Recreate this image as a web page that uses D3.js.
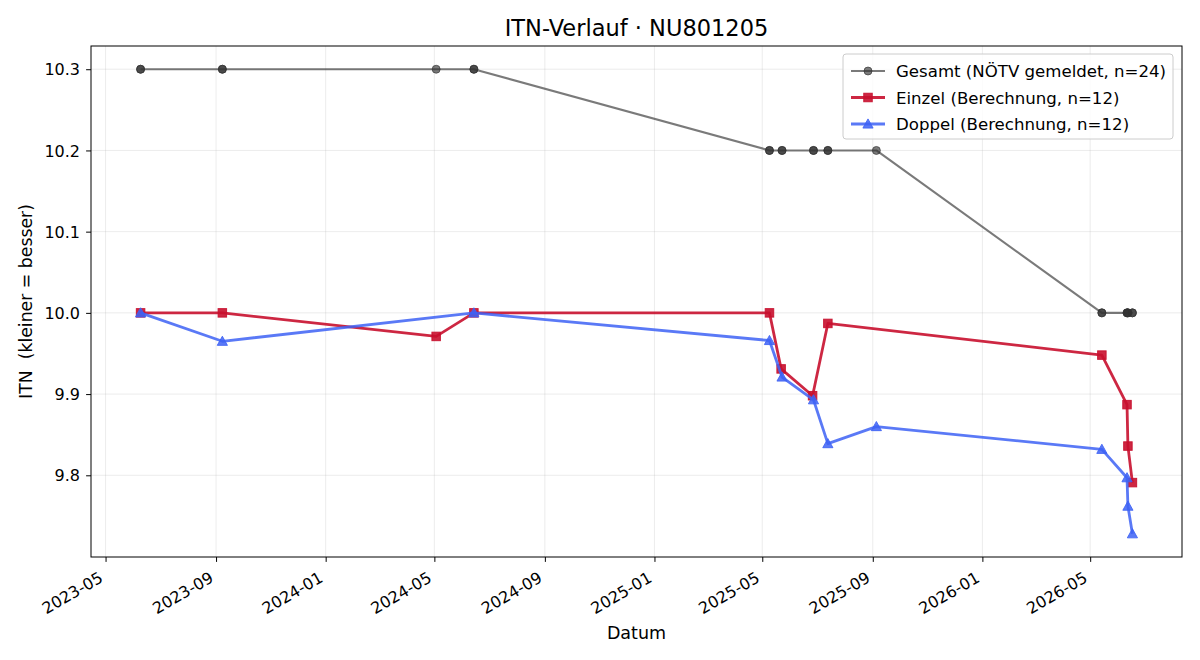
<!DOCTYPE html>
<html>
<head>
<meta charset="UTF-8">
<style>
body { margin: 0; background: #fff; }
svg { font-family: "DejaVu Sans", sans-serif; }
.grid line { stroke: #b0b0b0; stroke-opacity: 0.3; stroke-width: 0.8px; }
.axis path, .axis line { stroke: #000; }
.axis text { font-size: 16px; fill: #000; font-family: "DejaVu Sans", sans-serif; }
</style>
</head>
<body>
<svg width="1200" height="660"></svg>
<script src="https://cdnjs.cloudflare.com/ajax/libs/d3/7.8.5/d3.min.js"></script>
<script>
// data
var gesamtDates = ["2023-06-09","2023-06-09","2023-09-08","2023-09-08","2024-05-03","2024-06-14","2024-06-14",
  "2025-05-09","2025-05-09","2025-05-23","2025-05-23","2025-06-27","2025-06-27","2025-07-13","2025-07-13","2025-09-05",
  "2026-05-14","2026-05-14","2026-06-11","2026-06-11","2026-06-12","2026-06-12","2026-06-17","2026-06-17"];
var gesamtValues = [10.3,10.3,10.3,10.3,10.3,10.3,10.3,
  10.2,10.2,10.2,10.2,10.2,10.2,10.2,10.2,10.2,
  10.0,10.0,10.0,10.0,10.0,10.0,10.0,10.0];

var einzelDates = ["2023-06-09","2023-09-08","2024-05-03","2024-06-14","2025-05-09","2025-05-22",
  "2025-06-26","2025-07-13","2026-05-14","2026-06-11","2026-06-12","2026-06-17"];
var einzelValues = [10.0,10.0,9.971,10.0,10.0,9.931,9.898,9.987,9.948,9.887,9.836,9.791];

var doppelDates = ["2023-06-09","2023-09-08","2024-06-14","2025-05-09","2025-05-23","2025-06-27",
  "2025-07-13","2025-09-05","2026-05-14","2026-06-11","2026-06-12","2026-06-17"];
var doppelValues = [10.0,9.965,10.0,9.966,9.921,9.893,9.839,9.860,9.832,9.797,9.762,9.728];

var yTicks = [9.8, 9.9, 10.0, 10.1, 10.2, 10.3];
var xTickMonths = ["2023-05","2023-09","2024-01","2024-05","2024-09","2025-01","2025-05","2025-09","2026-01","2026-05"];

var parseDate = d3.timeParse("%Y-%m-%d");
var parseMonth = d3.timeParse("%Y-%m");

function toPoints(dates, values) {
  return dates.map(function(d, i) { return {date: parseDate(d), value: values[i]}; });
}

var series = [
  {name: "Gesamt (NÖTV gemeldet, n=24)", points: toPoints(gesamtDates, gesamtValues), color: "#333333", opacity: 0.65, width: 2.1, marker: "circle"},
  {name: "Einzel (Berechnung, n=12)", points: toPoints(einzelDates, einzelValues), color: "#c8102e", opacity: 0.9, width: 2.8, marker: "square"},
  {name: "Doppel (Berechnung, n=12)", points: toPoints(doppelDates, doppelValues), color: "#3d62f5", opacity: 0.85, width: 2.8, marker: "triangle"}
];

var svg = d3.select("svg"),
    margin = {top: 46, right: 18, bottom: 103, left: 91},
    width = 1200 - margin.left - margin.right,
    height = 660 - margin.top - margin.bottom,
    g = svg.append("g").attr("transform", "translate(" + margin.left + "," + margin.top + ")");

var allPts = [].concat.apply([], series.map(function(s) { return s.points; }));
var xExt = d3.extent(allPts, function(d) { return +d.date; }),
    yExt = d3.extent(allPts, function(d) { return d.value; });
var xPad = (xExt[1] - xExt[0]) * 0.05, yPad = (yExt[1] - yExt[0]) * 0.05;

var x = d3.scaleTime().domain([new Date(xExt[0] - xPad), new Date(xExt[1] + xPad)]).range([0, width]);
var y = d3.scaleLinear().domain([yExt[0] - yPad, yExt[1] + yPad]).range([height, 0]);

var xTicks = xTickMonths.map(parseMonth);

// grid
g.append("g").attr("class", "grid")
  .selectAll("line").data(xTicks).enter().append("line")
  .attr("x1", function(d) { return x(d); }).attr("x2", function(d) { return x(d); })
  .attr("y1", 0).attr("y2", height);
g.append("g").attr("class", "grid")
  .selectAll("line").data(yTicks).enter().append("line")
  .attr("y1", function(d) { return y(d); }).attr("y2", function(d) { return y(d); })
  .attr("x1", 0).attr("x2", width);

// axes
var xAxis = g.append("g").attr("class", "axis")
  .attr("transform", "translate(0," + height + ")")
  .call(d3.axisBottom(x).tickValues(xTicks).tickFormat(d3.timeFormat("%Y-%m")).tickSize(4.9).tickSizeOuter(0));
xAxis.selectAll("text")
  .attr("text-anchor", "end")
  .attr("dy", null).attr("y", 0).attr("x", 0)
  .attr("transform", "translate(-2,24) rotate(-30)");

g.append("g").attr("class", "axis")
  .call(d3.axisLeft(y).tickValues(yTicks).tickFormat(d3.format(".1f")).tickSize(4.9).tickSizeOuter(0))
  .selectAll("text").attr("x", -11).attr("dy", "0.35em");

g.selectAll(".axis .domain").remove();

// lines and markers
var line = d3.line().x(function(d) { return x(d.date); }).y(function(d) { return y(d.value); });

function drawMarker(sel, type, size) {
  if (type === "circle") {
    sel.append("circle").attr("r", size / 2);
  } else if (type === "square") {
    sel.append("rect").attr("x", -size / 2).attr("y", -size / 2).attr("width", size).attr("height", size);
  } else {
    var h = size * 0.6;
    sel.append("path").attr("d", "M0," + (-h) + "L" + h + "," + (h * 0.8) + "L" + (-h) + "," + (h * 0.8) + "Z");
  }
}

series.forEach(function(s) {
  var grp = g.append("g");
  grp.append("path").datum(s.points)
    .attr("fill", "none").attr("stroke", s.color).attr("stroke-opacity", s.opacity)
    .attr("stroke-width", s.width).attr("stroke-linejoin", "round")
    .attr("d", line);
  s.points.forEach(function(p) {
    var m = grp.append("g")
      .attr("transform", "translate(" + x(p.date) + "," + y(p.value) + ")")
      .attr("fill", s.color).attr("fill-opacity", s.opacity)
      .attr("stroke", s.color).attr("stroke-opacity", s.opacity).attr("stroke-width", 1);
    drawMarker(m, s.marker, s.marker === "circle" ? 8 : 8.5);
  });
});

// frame
g.append("rect").attr("width", width).attr("height", height)
  .attr("fill", "none").attr("stroke", "#000").attr("stroke-width", 1);

// title and labels
svg.append("text").attr("x", margin.left + width / 2).attr("y", 36)
  .attr("text-anchor", "middle").attr("font-size", "22.5px").text("ITN-Verlauf · NU801205");
svg.append("text").attr("x", margin.left + width / 2).attr("y", 639)
  .attr("text-anchor", "middle").attr("font-size", "17.5px").text("Datum");
svg.append("text")
  .attr("transform", "translate(32," + (margin.top + height / 2) + ") rotate(-90)")
  .attr("text-anchor", "middle").attr("font-size", "17.3px")
  .style("white-space", "pre").text("ITN  (kleiner = besser)");

// legend
var lg = svg.append("g").attr("transform", "translate(843,54)");
lg.append("rect").attr("width", 330).attr("height", 85).attr("rx", 3)
  .attr("fill", "#fff").attr("fill-opacity", 0.8).attr("stroke", "#cccccc");
series.forEach(function(s, i) {
  var row = lg.append("g").attr("transform", "translate(0," + (17 + i * 26.5) + ")");
  row.append("line").attr("x1", 8).attr("x2", 42)
    .attr("stroke", s.color).attr("stroke-opacity", s.opacity).attr("stroke-width", s.width);
  var m = row.append("g").attr("transform", "translate(25,0)")
    .attr("fill", s.color).attr("fill-opacity", s.opacity)
    .attr("stroke", s.color).attr("stroke-opacity", s.opacity);
  drawMarker(m, s.marker, s.marker === "circle" ? 8 : 8.5);
  row.append("text").attr("x", 53).attr("y", 6).attr("font-size", "16.6px").text(s.name);
});
</script>
</body>
</html>
